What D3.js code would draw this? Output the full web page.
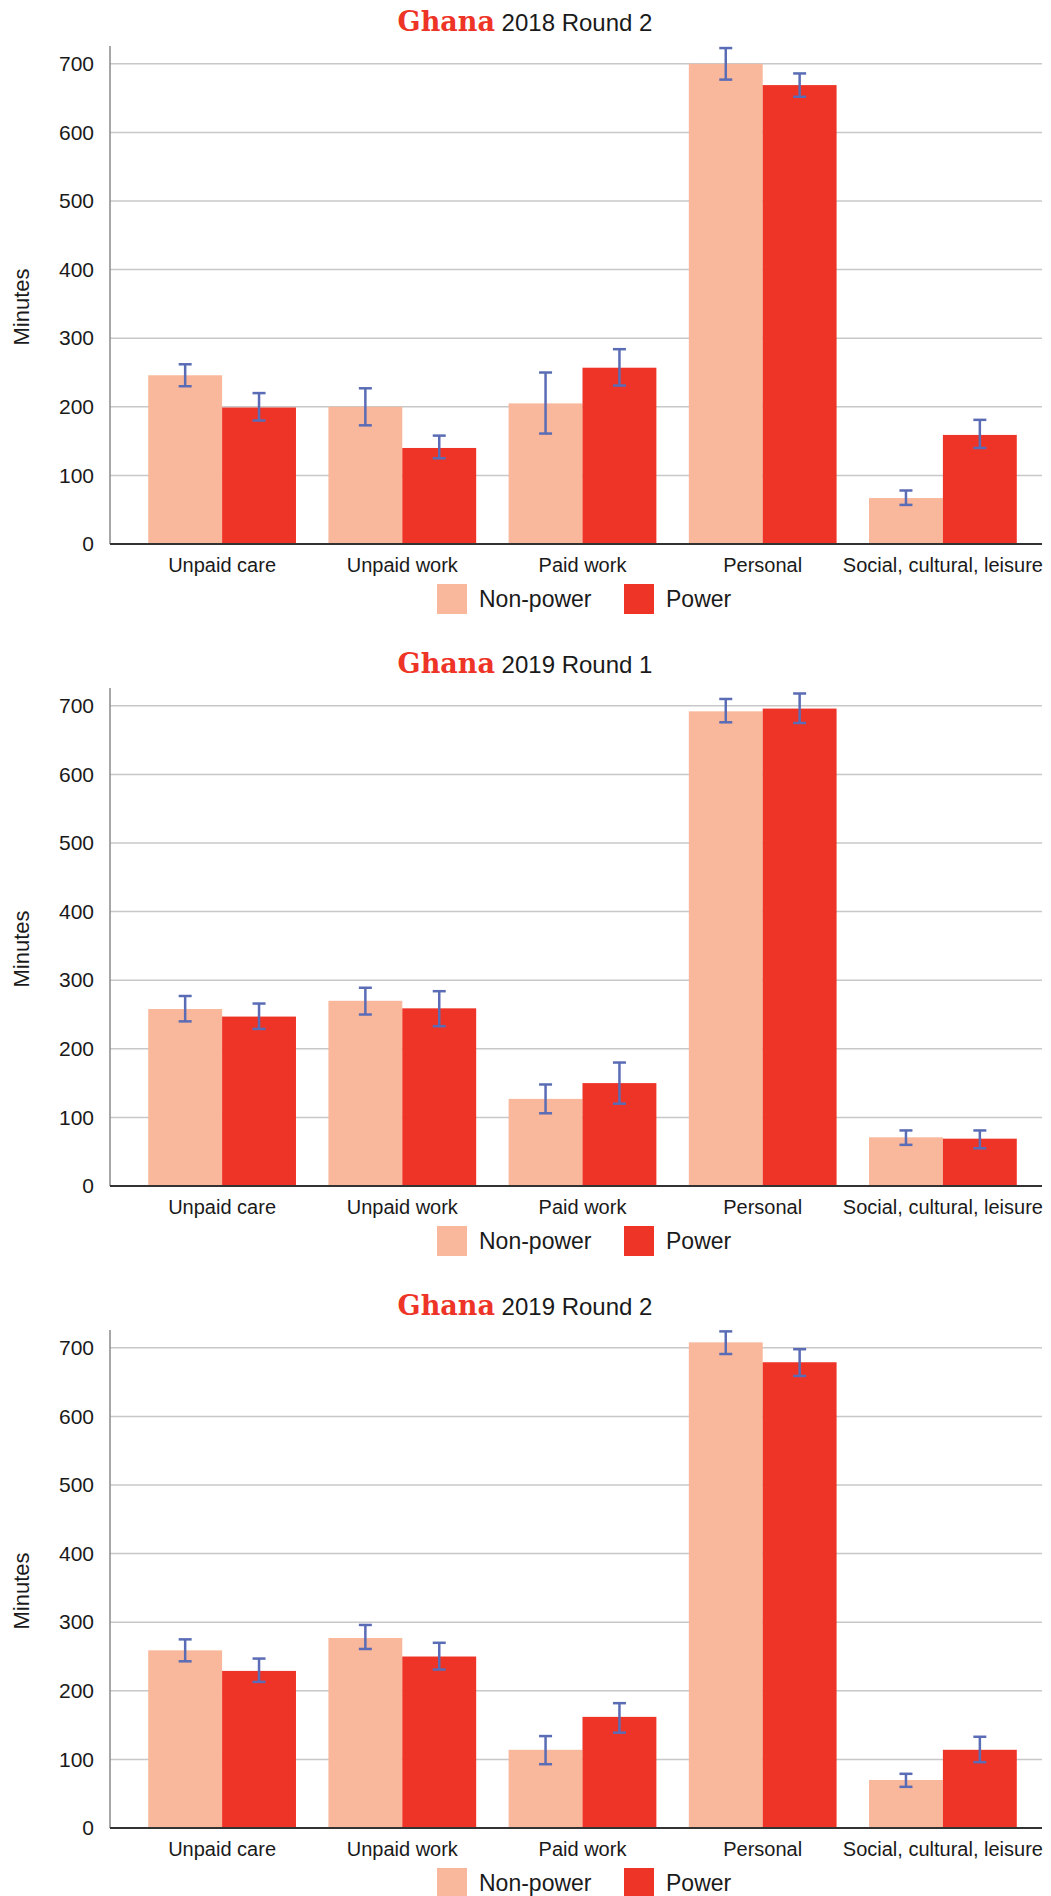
<!DOCTYPE html>
<html>
<head>
<meta charset="utf-8">
<script src="https://cdn.jsdelivr.net/npm/d3@7"></script>
<style>
  html, body { margin: 0; padding: 0; background: #fff; }
  svg { display: block; }
  text { font-family: "Liberation Sans", Helvetica, Arial, sans-serif; fill: #1a1a1a; }
</style>
</head>
<body>
<svg id="chart" width="1051" height="1896"></svg>
<script>
// Time-use categories and the two groups being compared
const categories = ["Unpaid care", "Unpaid work", "Paid work", "Personal", "Social, cultural, leisure"];
const seriesNames = ["Non-power", "Power"];
const country = "Ghana";
const roundLabels = ["2018 Round 2", "2019 Round 1", "2019 Round 2"];
const yTicks = [0, 100, 200, 300, 400, 500, 600, 700];
const yAxisLabel = "Minutes";

// 2018 Round 2 — mean minutes and confidence interval bounds
const r2018b_nonPower     = [246, 200, 205, 700, 67];
const r2018b_nonPowerLow  = [230, 173, 161, 677, 57];
const r2018b_nonPowerHigh = [262, 227, 250, 723, 78];
const r2018b_power        = [199, 140, 257, 669, 159];
const r2018b_powerLow     = [180, 125, 231, 652, 140];
const r2018b_powerHigh    = [220, 158, 284, 686, 181];

// 2019 Round 1
const r2019a_nonPower     = [258, 270, 127, 692, 71];
const r2019a_nonPowerLow  = [240, 250, 106, 676, 60];
const r2019a_nonPowerHigh = [277, 289, 148, 710, 81];
const r2019a_power        = [247, 259, 150, 696, 69];
const r2019a_powerLow     = [229, 233, 120, 675, 55];
const r2019a_powerHigh    = [266, 284, 180, 718, 81];

// 2019 Round 2
const r2019b_nonPower     = [259, 277, 114, 708, 70];
const r2019b_nonPowerLow  = [243, 261, 93, 691, 60];
const r2019b_nonPowerHigh = [275, 296, 134, 724, 79];
const r2019b_power        = [229, 250, 162, 679, 114];
const r2019b_powerLow     = [213, 231, 139, 659, 96];
const r2019b_powerHigh    = [247, 270, 182, 698, 133];

const panels = [
  { round: roundLabels[0], series: [
      { mean: r2018b_nonPower, low: r2018b_nonPowerLow, high: r2018b_nonPowerHigh },
      { mean: r2018b_power,    low: r2018b_powerLow,    high: r2018b_powerHigh } ] },
  { round: roundLabels[1], series: [
      { mean: r2019a_nonPower, low: r2019a_nonPowerLow, high: r2019a_nonPowerHigh },
      { mean: r2019a_power,    low: r2019a_powerLow,    high: r2019a_powerHigh } ] },
  { round: roundLabels[2], series: [
      { mean: r2019b_nonPower, low: r2019b_nonPowerLow, high: r2019b_nonPowerHigh },
      { mean: r2019b_power,    low: r2019b_powerLow,    high: r2019b_powerHigh } ] }
];

const colors = d3.scaleOrdinal().domain(seriesNames).range(["#f9b89c", "#ee3327"]);
const errColor = "#5a6cb5";

const panelHeight = 642;
const plotLeft = 110, plotRight = 1042, plotTop = 46, plotBottom = 544;

const x0 = d3.scaleBand().domain(categories).range([132, 1033]).paddingInner(0.18).paddingOuter(0.09);
const x1 = d3.scaleBand().domain(seriesNames).range([0, x0.bandwidth()]);
const y = d3.scaleLinear().domain([0, 726]).range([plotBottom, plotTop]);

const svg = d3.select("#chart");

panels.forEach((p, i) => {
  const g = svg.append("g").attr("transform", `translate(0,${i * panelHeight})`);

  // Title: country name in a slab-serif face, round in sans
  const title = g.append("text")
    .attr("x", 525).attr("y", 31)
    .attr("text-anchor", "middle");
  title.append("tspan")
    .text(country)
    .style("font-family", "'DejaVu Serif', 'Courier New', serif")
    .style("font-weight", "bold")
    .style("font-size", "27px")
    .style("fill", "#ee3327");
  title.append("tspan")
    .text(" " + p.round)
    .style("font-size", "24px");

  // Horizontal gridlines
  g.append("g").selectAll("line")
    .data(yTicks.filter(t => t > 0))
    .join("line")
    .attr("x1", plotLeft).attr("x2", plotRight)
    .attr("y1", d => y(d)).attr("y2", d => y(d))
    .attr("stroke", "#c8c8c8").attr("stroke-width", 1.5);

  // Y axis with tick labels
  const yAxis = g.append("g")
    .attr("transform", `translate(${plotLeft},0)`)
    .call(d3.axisLeft(y).tickValues(yTicks).tickSize(0).tickPadding(16));
  yAxis.select(".domain").remove();
  yAxis.selectAll("text")
    .style("font-size", "21px")
    .style("font-family", "'Liberation Sans', Helvetica, Arial, sans-serif")
    .attr("fill", "#1a1a1a");

  g.append("line")
    .attr("x1", plotLeft).attr("x2", plotLeft)
    .attr("y1", plotTop).attr("y2", plotBottom)
    .attr("stroke", "#8a8a8a").attr("stroke-width", 1.5);

  // Y axis title
  g.append("text")
    .attr("transform", `translate(29,${(plotTop + plotBottom) / 2 + 12}) rotate(-90)`)
    .attr("text-anchor", "middle")
    .style("font-size", "22px")
    .text(yAxisLabel);

  // Bars
  const groups = g.append("g").selectAll("g")
    .data(categories)
    .join("g")
    .attr("transform", c => `translate(${x0(c)},0)`);

  groups.selectAll("rect")
    .data((c, ci) => seriesNames.map((s, si) => ({ s, v: p.series[si].mean[ci] })))
    .join("rect")
    .attr("x", d => x1(d.s))
    .attr("width", x1.bandwidth())
    .attr("y", d => y(d.v))
    .attr("height", d => y(0) - y(d.v))
    .attr("fill", d => colors(d.s));

  // Error bars
  const errs = groups.selectAll("g.err")
    .data((c, ci) => seriesNames.map((s, si) => ({
      s, lo: p.series[si].low[ci], hi: p.series[si].high[ci]
    })))
    .join("g").attr("class", "err")
    .attr("transform", d => `translate(${x1(d.s) + x1.bandwidth() / 2},0)`)
    .attr("stroke", errColor).attr("stroke-width", 2.5);
  errs.append("line").attr("x1", 0).attr("x2", 0).attr("y1", d => y(d.lo)).attr("y2", d => y(d.hi));
  errs.append("line").attr("x1", -6.5).attr("x2", 6.5).attr("y1", d => y(d.lo)).attr("y2", d => y(d.lo));
  errs.append("line").attr("x1", -6.5).attr("x2", 6.5).attr("y1", d => y(d.hi)).attr("y2", d => y(d.hi));

  // Baseline
  g.append("line")
    .attr("x1", plotLeft).attr("x2", plotRight)
    .attr("y1", plotBottom).attr("y2", plotBottom)
    .attr("stroke", "#333").attr("stroke-width", 2);

  // Category labels
  g.append("g").selectAll("text")
    .data(categories)
    .join("text")
    .attr("x", c => x0(c) + x0.bandwidth() / 2)
    .attr("y", 572)
    .attr("text-anchor", "middle")
    .style("font-size", "20px")
    .text(c => c);

  // Legend
  const legend = g.append("g").attr("transform", "translate(437,584)");
  const items = legend.selectAll("g")
    .data(seriesNames)
    .join("g")
    .attr("transform", (d, k) => `translate(${k * 187},0)`);
  items.append("rect").attr("width", 30).attr("height", 30).attr("fill", d => colors(d));
  items.append("text").attr("x", 42).attr("y", 23).style("font-size", "23px").text(d => d);
});
</script>
</body>
</html>
